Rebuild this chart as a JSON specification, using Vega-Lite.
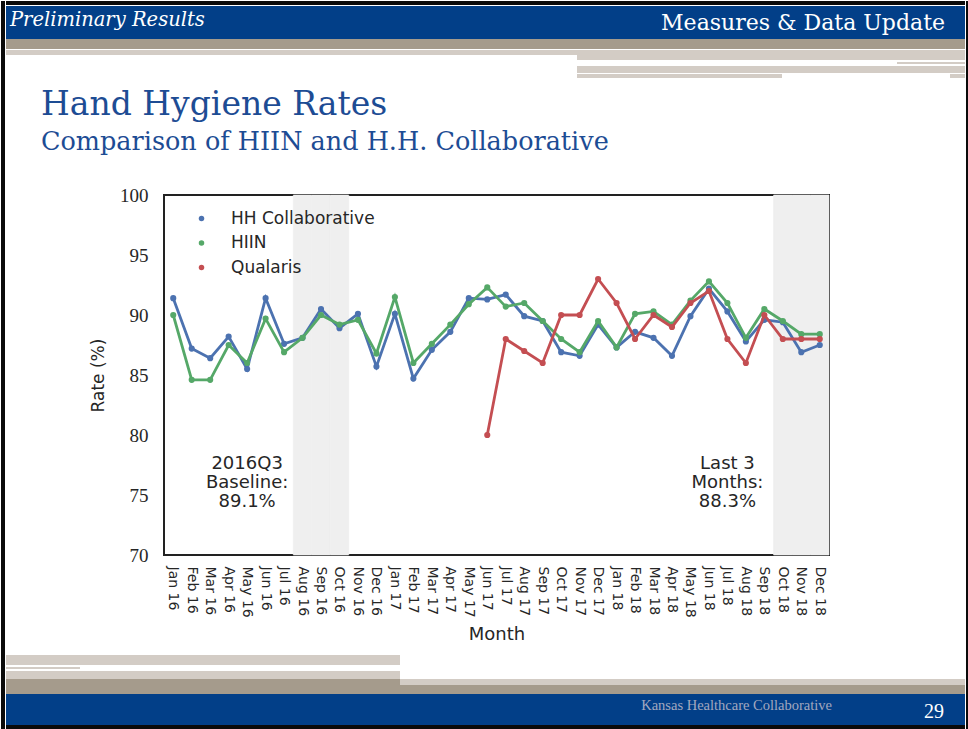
{
  "$schema": "https://vega.github.io/schema/vega-lite/v6.json",
  "background": "white",
  "padding": 0,
  "spacing": 0,
  "config": {"view": {"stroke": null}, "concat": {"spacing": 0}},
  "datasets": {
    "rates": [
      {"month": "Jan 16", "series": "HH Collaborative", "rate": 91.4},
      {"month": "Feb 16", "series": "HH Collaborative", "rate": 87.2},
      {"month": "Mar 16", "series": "HH Collaborative", "rate": 86.4},
      {"month": "Apr 16", "series": "HH Collaborative", "rate": 88.2},
      {"month": "May 16", "series": "HH Collaborative", "rate": 85.5},
      {"month": "Jun 16", "series": "HH Collaborative", "rate": 91.4},
      {"month": "Jul 16", "series": "HH Collaborative", "rate": 87.6},
      {"month": "Aug 16", "series": "HH Collaborative", "rate": 88.1},
      {"month": "Sep 16", "series": "HH Collaborative", "rate": 90.5},
      {"month": "Oct 16", "series": "HH Collaborative", "rate": 88.9},
      {"month": "Nov 16", "series": "HH Collaborative", "rate": 90.1},
      {"month": "Dec 16", "series": "HH Collaborative", "rate": 85.7},
      {"month": "Jan 17", "series": "HH Collaborative", "rate": 90.1},
      {"month": "Feb 17", "series": "HH Collaborative", "rate": 84.7},
      {"month": "Mar 17", "series": "HH Collaborative", "rate": 87.1},
      {"month": "Apr 17", "series": "HH Collaborative", "rate": 88.6},
      {"month": "May 17", "series": "HH Collaborative", "rate": 91.4},
      {"month": "Jun 17", "series": "HH Collaborative", "rate": 91.3},
      {"month": "Jul 17", "series": "HH Collaborative", "rate": 91.7},
      {"month": "Aug 17", "series": "HH Collaborative", "rate": 89.9},
      {"month": "Sep 17", "series": "HH Collaborative", "rate": 89.5},
      {"month": "Oct 17", "series": "HH Collaborative", "rate": 86.9},
      {"month": "Nov 17", "series": "HH Collaborative", "rate": 86.6},
      {"month": "Dec 17", "series": "HH Collaborative", "rate": 89.2},
      {"month": "Jan 18", "series": "HH Collaborative", "rate": 87.3},
      {"month": "Feb 18", "series": "HH Collaborative", "rate": 88.6},
      {"month": "Mar 18", "series": "HH Collaborative", "rate": 88.1},
      {"month": "Apr 18", "series": "HH Collaborative", "rate": 86.6},
      {"month": "May 18", "series": "HH Collaborative", "rate": 89.9},
      {"month": "Jun 18", "series": "HH Collaborative", "rate": 92.2},
      {"month": "Jul 18", "series": "HH Collaborative", "rate": 90.3},
      {"month": "Aug 18", "series": "HH Collaborative", "rate": 87.8},
      {"month": "Sep 18", "series": "HH Collaborative", "rate": 89.6},
      {"month": "Oct 18", "series": "HH Collaborative", "rate": 89.4},
      {"month": "Nov 18", "series": "HH Collaborative", "rate": 86.9},
      {"month": "Dec 18", "series": "HH Collaborative", "rate": 87.5},
      {"month": "Jan 16", "series": "HIIN", "rate": 90.0},
      {"month": "Feb 16", "series": "HIIN", "rate": 84.6},
      {"month": "Mar 16", "series": "HIIN", "rate": 84.6},
      {"month": "Apr 16", "series": "HIIN", "rate": 87.5},
      {"month": "May 16", "series": "HIIN", "rate": 86.0},
      {"month": "Jun 16", "series": "HIIN", "rate": 89.7},
      {"month": "Jul 16", "series": "HIIN", "rate": 86.9},
      {"month": "Aug 16", "series": "HIIN", "rate": 88.1},
      {"month": "Sep 16", "series": "HIIN", "rate": 90.0},
      {"month": "Oct 16", "series": "HIIN", "rate": 89.2},
      {"month": "Nov 16", "series": "HIIN", "rate": 89.6},
      {"month": "Dec 16", "series": "HIIN", "rate": 86.8},
      {"month": "Jan 17", "series": "HIIN", "rate": 91.5},
      {"month": "Feb 17", "series": "HIIN", "rate": 86.0},
      {"month": "Mar 17", "series": "HIIN", "rate": 87.6},
      {"month": "Apr 17", "series": "HIIN", "rate": 89.2},
      {"month": "May 17", "series": "HIIN", "rate": 90.9},
      {"month": "Jun 17", "series": "HIIN", "rate": 92.3},
      {"month": "Jul 17", "series": "HIIN", "rate": 90.7},
      {"month": "Aug 17", "series": "HIIN", "rate": 91.0},
      {"month": "Sep 17", "series": "HIIN", "rate": 89.5},
      {"month": "Oct 17", "series": "HIIN", "rate": 88.0},
      {"month": "Nov 17", "series": "HIIN", "rate": 86.9},
      {"month": "Dec 17", "series": "HIIN", "rate": 89.5},
      {"month": "Jan 18", "series": "HIIN", "rate": 87.3},
      {"month": "Feb 18", "series": "HIIN", "rate": 90.1},
      {"month": "Mar 18", "series": "HIIN", "rate": 90.3},
      {"month": "Apr 18", "series": "HIIN", "rate": 89.2},
      {"month": "May 18", "series": "HIIN", "rate": 91.2},
      {"month": "Jun 18", "series": "HIIN", "rate": 92.8},
      {"month": "Jul 18", "series": "HIIN", "rate": 91.0},
      {"month": "Aug 18", "series": "HIIN", "rate": 88.1},
      {"month": "Sep 18", "series": "HIIN", "rate": 90.5},
      {"month": "Oct 18", "series": "HIIN", "rate": 89.5},
      {"month": "Nov 18", "series": "HIIN", "rate": 88.4},
      {"month": "Dec 18", "series": "HIIN", "rate": 88.4},
      {"month": "Jun 17", "series": "Qualaris", "rate": 80},
      {"month": "Jul 17", "series": "Qualaris", "rate": 88},
      {"month": "Aug 17", "series": "Qualaris", "rate": 87},
      {"month": "Sep 17", "series": "Qualaris", "rate": 86},
      {"month": "Oct 17", "series": "Qualaris", "rate": 90},
      {"month": "Nov 17", "series": "Qualaris", "rate": 90},
      {"month": "Dec 17", "series": "Qualaris", "rate": 93},
      {"month": "Jan 18", "series": "Qualaris", "rate": 91},
      {"month": "Feb 18", "series": "Qualaris", "rate": 88},
      {"month": "Mar 18", "series": "Qualaris", "rate": 90},
      {"month": "Apr 18", "series": "Qualaris", "rate": 89},
      {"month": "May 18", "series": "Qualaris", "rate": 91},
      {"month": "Jun 18", "series": "Qualaris", "rate": 92},
      {"month": "Jul 18", "series": "Qualaris", "rate": 88},
      {"month": "Aug 18", "series": "Qualaris", "rate": 86},
      {"month": "Sep 18", "series": "Qualaris", "rate": 90},
      {"month": "Oct 18", "series": "Qualaris", "rate": 88},
      {"month": "Nov 18", "series": "Qualaris", "rate": 88},
      {"month": "Dec 18", "series": "Qualaris", "rate": 88}
    ],
    "shade": [
      {"month": "Aug 16"}, {"month": "Sep 16"}, {"month": "Oct 16"},
      {"month": "Oct 18"}, {"month": "Nov 18"}, {"month": "Dec 18"}
    ],
    "notes": [
      {"month": "May 16", "rate": 77.6, "line": "2016Q3"},
      {"month": "May 16", "rate": 76.0, "line": "Baseline:"},
      {"month": "May 16", "rate": 74.4, "line": "89.1%"},
      {"month": "Jul 18", "rate": 77.6, "line": "Last 3"},
      {"month": "Jul 18", "rate": 76.0, "line": "Months:"},
      {"month": "Jul 18", "rate": 74.4, "line": "88.3%"}
    ]
  },
  "hconcat": [
    {"width": 4, "height": 729, "view": {"fill": "#0a0a0a", "stroke": null}, "data": {"values": [{}]}, "mark": {"type": "point", "opacity": 0}, "encoding": {}},
    {
      "spacing": 0,
      "vconcat": [
        {"width": 959, "height": 4, "view": {"fill": "#0a0a0a", "stroke": null}, "data": {"values": [{}]}, "mark": {"type": "point", "opacity": 0}, "encoding": {}},
        {
          "width": 959, "height": 33,
          "view": {"fill": "#023f88", "stroke": null},
          "data": {"values": [{"label": "Preliminary Results", "side": "start"}, {"label": "Measures & Data Update", "side": "end"}]},
          "encoding": {
            "x": {"field": "side", "type": "nominal", "scale": {"type": "point", "domain": ["start", "end"], "padding": 0}, "axis": null},
            "text": {"field": "label"}
          },
          "layer": [
            {"transform": [{"filter": "datum.side == 'start'"}], "mark": {"type": "text", "align": "left", "baseline": "middle", "dx": 4, "dy": -3, "font": "DejaVu Serif", "fontStyle": "italic", "fontSize": 19.5, "color": "white"}},
            {"transform": [{"filter": "datum.side == 'end'"}], "mark": {"type": "text", "align": "right", "baseline": "middle", "dx": -20, "dy": 0, "font": "DejaVu Serif", "fontSize": 22, "color": "white"}}
          ]
        },
        {"width": 959, "height": 10, "view": {"fill": "#a59b8c", "stroke": null}, "data": {"values": [{}]}, "mark": {"type": "point", "opacity": 0}, "encoding": {}},
        {
          "spacing": 0,
          "hconcat": [
            {"width": 571, "height": 5, "view": {"fill": "#d3ccc5", "stroke": null}, "data": {"values": [{}]}, "mark": {"type": "point", "opacity": 0}, "encoding": {}},
            {
              "spacing": 0,
              "vconcat": [
                {"width": 388, "height": 10, "view": {"fill": "#d3ccc5", "stroke": null}, "data": {"values": [{}]}, "mark": {"type": "point", "opacity": 0}, "encoding": {}},
                {"spacing": 0, "hconcat": [
                  {"width": 320, "height": 2, "view": {"fill": "white", "stroke": null}, "data": {"values": [{}]}, "mark": {"type": "point", "opacity": 0}, "encoding": {}},
                  {"width": 68, "height": 2, "view": {"fill": "#d3ccc5", "stroke": null}, "data": {"values": [{}]}, "mark": {"type": "point", "opacity": 0}, "encoding": {}}
                ]},
                {"width": 388, "height": 7, "view": {"fill": "#d3ccc5", "stroke": null}, "data": {"values": [{}]}, "mark": {"type": "point", "opacity": 0}, "encoding": {}},
                {"spacing": 0, "hconcat": [
                  {"width": 205, "height": 4, "view": {"fill": "#d3ccc5", "stroke": null}, "data": {"values": [{}]}, "mark": {"type": "point", "opacity": 0}, "encoding": {}},
                  {"width": 168, "height": 4, "view": {"fill": "white", "stroke": null}, "data": {"values": [{}]}, "mark": {"type": "point", "opacity": 0}, "encoding": {}},
                  {"width": 15, "height": 4, "view": {"fill": "#d3ccc5", "stroke": null}, "data": {"values": [{}]}, "mark": {"type": "point", "opacity": 0}, "encoding": {}}
                ]}
              ]
            }
          ]
        },
        {"width": 959, "height": 8, "view": {"fill": "white", "stroke": null}, "data": {"values": [{}]}, "mark": {"type": "point", "opacity": 0}, "encoding": {}},
        {
          "spacing": 0,
          "resolve": {"scale": {"color": "independent"}, "legend": {"color": "independent"}},
          "hconcat": [
            {"width": 34, "height": 1, "view": {"fill": "white", "stroke": null}, "data": {"values": [{}]}, "mark": {"type": "point", "opacity": 0}, "encoding": {}},
            {
              "width": 665, "height": 360,
              "view": {"stroke": "#222222", "strokeWidth": 2},
              "title": {
                "text": "Hand Hygiene Rates",
                "subtitle": "Comparison of HIIN and H.H. Collaborative",
                "anchor": "start", "frame": "group", "dx": -123,
                "font": "DejaVu Serif", "fontSize": 33, "fontWeight": "normal", "color": "#1d4c94",
                "subtitleFont": "DejaVu Serif", "subtitleFontSize": 25.5, "subtitleColor": "#1d4c94",
                "subtitlePadding": 8, "offset": 31
              },
              "encoding": {
                "x": {
                  "field": "month", "type": "ordinal",
                  "scale": {"type": "band", "paddingInner": 0, "paddingOuter": 0,
                    "domain": ["Jan 16","Feb 16","Mar 16","Apr 16","May 16","Jun 16","Jul 16","Aug 16","Sep 16","Oct 16","Nov 16","Dec 16","Jan 17","Feb 17","Mar 17","Apr 17","May 17","Jun 17","Jul 17","Aug 17","Sep 17","Oct 17","Nov 17","Dec 17","Jan 18","Feb 18","Mar 18","Apr 18","May 18","Jun 18","Jul 18","Aug 18","Sep 18","Oct 18","Nov 18","Dec 18"]},
                  "axis": {"title": "Month", "labelAngle": 90, "labelFont": "DejaVu Sans", "labelFontSize": 14, "labelColor": "#262626", "labelPadding": 11, "labelOverlap": false, "ticks": false, "domain": false, "grid": false,
                    "titleFont": "DejaVu Sans", "titleFontSize": 18, "titleFontWeight": "normal", "titleColor": "#262626", "titlePadding": 8}
                }
              },
              "layer": [
                {
                  "data": {"name": "shade"},
                  "mark": {"type": "rect", "fill": "#efefef", "stroke": "#efefef", "strokeWidth": 0.6}
                },
                {
                  "data": {"name": "rates"},
                  "transform": [{"filter": "datum.series == 'HH Collaborative'"}],
                  "mark": {"type": "line", "strokeWidth": 2.8, "color": "#4c72b0", "point": {"filled": true, "size": 38, "color": "#4c72b0"}},
                  "encoding": {
                    "y": {"field": "rate", "type": "quantitative", "scale": {"domain": [70, 100], "nice": false, "zero": false},
                      "axis": {"title": "Rate (%)", "values": [70, 75, 80, 85, 90, 95, 100], "ticks": false, "domain": false, "grid": false,
                        "labelFont": "Liberation Serif", "labelFontSize": 19, "labelColor": "#262626", "labelPadding": 16,
                        "titleFont": "DejaVu Sans", "titleFontSize": 17, "titleFontWeight": "normal", "titleColor": "#262626", "titlePadding": 12}}
                  }
                },
                {
                  "data": {"name": "rates"},
                  "transform": [{"filter": "datum.series == 'HIIN'"}],
                  "mark": {"type": "line", "strokeWidth": 2.8, "color": "#55a868", "point": {"filled": true, "size": 38, "color": "#55a868"}},
                  "encoding": {
                    "y": {"field": "rate", "type": "quantitative", "scale": {"domain": [70, 100], "nice": false, "zero": false},
                      "axis": {"title": "Rate (%)", "values": [70, 75, 80, 85, 90, 95, 100], "ticks": false, "domain": false, "grid": false,
                        "labelFont": "Liberation Serif", "labelFontSize": 19, "labelColor": "#262626", "labelPadding": 16,
                        "titleFont": "DejaVu Sans", "titleFontSize": 17, "titleFontWeight": "normal", "titleColor": "#262626", "titlePadding": 12}}
                  }
                },
                {
                  "data": {"name": "rates"},
                  "transform": [{"filter": "datum.series == 'Qualaris'"}],
                  "mark": {"type": "line", "strokeWidth": 2.8, "color": "#c44e52", "point": {"filled": true, "size": 38, "color": "#c44e52"}},
                  "encoding": {
                    "y": {"field": "rate", "type": "quantitative", "scale": {"domain": [70, 100], "nice": false, "zero": false},
                      "axis": {"title": "Rate (%)", "values": [70, 75, 80, 85, 90, 95, 100], "ticks": false, "domain": false, "grid": false,
                        "labelFont": "Liberation Serif", "labelFontSize": 19, "labelColor": "#262626", "labelPadding": 16,
                        "titleFont": "DejaVu Sans", "titleFontSize": 17, "titleFontWeight": "normal", "titleColor": "#262626", "titlePadding": 12}}
                  }
                },
                {
                  "data": {"name": "rates"},
                  "mark": {"type": "point", "filled": true, "size": 38, "opacity": 0},
                  "encoding": {
                    "y": {"field": "rate", "type": "quantitative", "scale": {"domain": [70, 100], "nice": false, "zero": false},
                      "axis": {"title": "Rate (%)", "values": [70, 75, 80, 85, 90, 95, 100], "ticks": false, "domain": false, "grid": false,
                        "labelFont": "Liberation Serif", "labelFontSize": 19, "labelColor": "#262626", "labelPadding": 16,
                        "titleFont": "DejaVu Sans", "titleFontSize": 17, "titleFontWeight": "normal", "titleColor": "#262626", "titlePadding": 12}},
                    "color": {"field": "series", "type": "nominal",
                      "scale": {"domain": ["HH Collaborative", "HIIN", "Qualaris"], "range": ["#4c72b0", "#55a868", "#c44e52"]},
                      "legend": {"title": null, "orient": "top-left", "offset": 15, "padding": 0,
                        "symbolType": "circle", "symbolSize": 30, "symbolOpacity": 1, "symbolOffset": 14, "labelOffset": 21,
                        "rowPadding": 6.5, "labelFont": "DejaVu Sans", "labelFontSize": 17, "labelColor": "#262626"}}
                  }
                },
                {
                  "data": {"name": "notes"},
                  "mark": {"type": "text", "align": "center", "baseline": "middle", "font": "DejaVu Sans", "fontSize": 18, "color": "#262626"},
                  "encoding": {
                    "y": {"field": "rate", "type": "quantitative", "scale": {"domain": [70, 100], "nice": false, "zero": false},
                      "axis": {"title": "Rate (%)", "values": [70, 75, 80, 85, 90, 95, 100], "ticks": false, "domain": false, "grid": false,
                        "labelFont": "Liberation Serif", "labelFontSize": 19, "labelColor": "#262626", "labelPadding": 16,
                        "titleFont": "DejaVu Sans", "titleFontSize": 17, "titleFontWeight": "normal", "titleColor": "#262626", "titlePadding": 12}},
                    "text": {"field": "line"}
                  }
                }
              ]
            }
          ]
        },
        {"width": 959, "height": 10, "view": {"fill": "white", "stroke": null}, "data": {"values": [{}]}, "mark": {"type": "point", "opacity": 0}, "encoding": {}},
        {"spacing": 0, "hconcat": [
          {"width": 394, "height": 10, "view": {"fill": "#d3ccc5", "stroke": null}, "data": {"values": [{}]}, "mark": {"type": "point", "opacity": 0}, "encoding": {}},
          {"width": 565, "height": 10, "view": {"fill": "white", "stroke": null}, "data": {"values": [{}]}, "mark": {"type": "point", "opacity": 0}, "encoding": {}}
        ]},
        {"spacing": 0, "hconcat": [
          {"width": 74, "height": 2, "view": {"fill": "#d3ccc5", "stroke": null}, "data": {"values": [{}]}, "mark": {"type": "point", "opacity": 0}, "encoding": {}},
          {"width": 885, "height": 2, "view": {"fill": "white", "stroke": null}, "data": {"values": [{}]}, "mark": {"type": "point", "opacity": 0}, "encoding": {}}
        ]},
        {"spacing": 0, "hconcat": [
          {"width": 394, "height": 8, "view": {"fill": "#d3ccc5", "stroke": null}, "data": {"values": [{}]}, "mark": {"type": "point", "opacity": 0}, "encoding": {}},
          {"width": 565, "height": 8, "view": {"fill": "white", "stroke": null}, "data": {"values": [{}]}, "mark": {"type": "point", "opacity": 0}, "encoding": {}}
        ]},
        {"spacing": 0, "hconcat": [
          {"width": 394, "height": 6, "view": {"fill": "#a59b8c", "stroke": null}, "data": {"values": [{}]}, "mark": {"type": "point", "opacity": 0}, "encoding": {}},
          {"width": 565, "height": 6, "view": {"fill": "#d3ccc5", "stroke": null}, "data": {"values": [{}]}, "mark": {"type": "point", "opacity": 0}, "encoding": {}}
        ]},
        {"width": 959, "height": 9, "view": {"fill": "#a59b8c", "stroke": null}, "data": {"values": [{}]}, "mark": {"type": "point", "opacity": 0}, "encoding": {}},
        {
          "width": 959, "height": 31,
          "view": {"fill": "#023f88", "stroke": null},
          "data": {"values": [{"label": "Kansas Healthcare Collaborative", "role": "org", "side": "end"}, {"label": "29", "role": "page", "side": "end"}]},
          "encoding": {
            "x": {"field": "side", "type": "nominal", "scale": {"type": "point", "domain": ["start", "end"], "padding": 0}, "axis": null},
            "text": {"field": "label"}
          },
          "layer": [
            {"transform": [{"filter": "datum.role == 'org'"}], "mark": {"type": "text", "align": "right", "baseline": "middle", "dx": -133, "dy": -3.5, "font": "Liberation Serif", "fontSize": 14.5, "color": "#a3a8bf"}},
            {"transform": [{"filter": "datum.role == 'page'"}], "mark": {"type": "text", "align": "right", "baseline": "middle", "dx": -21, "dy": 2.5, "font": "Liberation Serif", "fontSize": 20, "color": "white"}}
          ]
        },
        {"width": 959, "height": 7, "view": {"fill": "#0a0a0a", "stroke": null}, "data": {"values": [{}]}, "mark": {"type": "point", "opacity": 0}, "encoding": {}}
      ]
    },
    {"width": 5, "height": 729, "view": {"fill": "#0a0a0a", "stroke": null}, "data": {"values": [{}]}, "mark": {"type": "point", "opacity": 0}, "encoding": {}}
  ]
}
